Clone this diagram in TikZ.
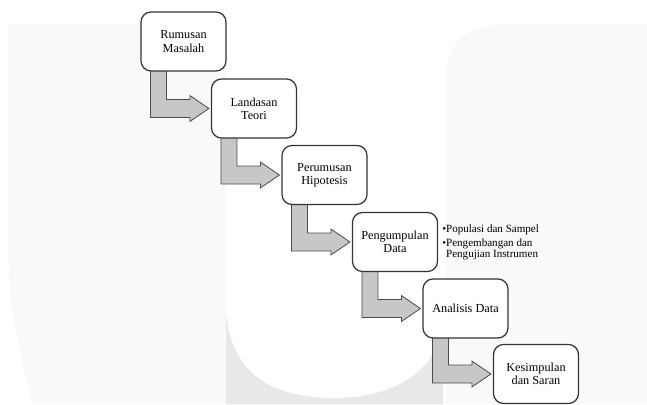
\documentclass[tikz,border=0pt]{standalone}
\usepackage{fontspec}
\setmainfont{Liberation Serif}
\usetikzlibrary{calc,backgrounds}

\tikzset{
  tahap/.style={draw=black!80, line width=0.9pt, rounded corners=7.5pt, fill=white,
    minimum width=63.75pt, minimum height=44.25pt, align=center, inner sep=1pt,
    font=\fontsize{9.2}{9.9}\selectfont},
  panah/.style={draw=black!70, line width=0.6pt, fill=black!22, line join=miter},
  latar/.style={fill=black!2.5},
}

\begin{document}
\begin{tikzpicture}[x=0.75pt, y=-0.75pt]
    \useasboundingbox (0,0) rectangle (647,404);

    % faint watermark behind everything
    \begin{pgfonlayer}{background}
        \fill[latar] (8,24) -- (226,24) -- (226,404) -- (33,404) .. controls (15,340) and (8,290) .. (8,250) -- cycle;
        \fill[latar] (446,404) -- (446,84) .. controls (446,40) and (466,24) .. (510,24) -- (647,24) -- (647,404) -- cycle;
        \fill[black!9] (226,313) .. controls (232,380) and (280,398) .. (335,398) .. controls (395,398) and (440,370) .. (443,320) -- (443,404) -- (226,404) -- cycle;
    \end{pgfonlayer}

    \node[tahap] (rumusan) at (183.5,41.5) {Rumusan\\Masalah};
    \node[tahap] (landasan) at (254,108.5) {Landasan\\Teori};
    \node[tahap] (hipotesis) at (324.5,175) {Perumusan\\Hipotesis};
    \node[tahap] (data) at (395,242) {Pengumpulan\\Data};
    \node[tahap] (analisis) at (465.5,308.5) {Analisis Data};
    \node[tahap] (simpulan) at (536,374) {Kesimpulan\\dan Saran};

    \node[anchor=north west, inner sep=0pt, align=left, font=\fontsize{8.3}{8.3}\selectfont]
        (rincian) at (442,225) {•Populasi dan Sampel\\[1.5pt] •Pengembangan dan\\ \hphantom{•}Pengujian Instrumen};

    % L-shaped block arrows
    \begin{pgfonlayer}{background}
        \foreach \a/\b in {rumusan/landasan, landasan/hipotesis, hipotesis/data, data/analisis, analisis/simpulan}
            \draw[panah] let \p1=(\a.south west), \p2=(\b.west) in
                (\x1+7.5pt,\y1+3pt) -- (\x1+19.5pt,\y1+3pt) -- (\x1+19.5pt,\y2+6.75pt)
                -- (\x2-15.75pt,\y2+6.75pt) -- (\x2-15.75pt,\y2+9.75pt) -- (\x2-1.5pt,\y2)
                -- (\x2-15.75pt,\y2-9.75pt) -- (\x2-15.75pt,\y2-6.75pt) -- (\x1+7.5pt,\y2-6.75pt) -- cycle;
    \end{pgfonlayer}
\end{tikzpicture}
\end{document}
